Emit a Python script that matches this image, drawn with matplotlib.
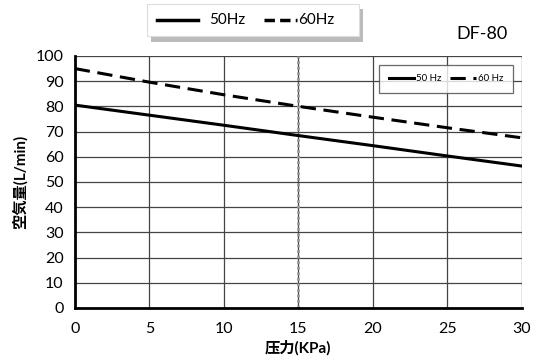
import matplotlib.pyplot as plt
from matplotlib.patches import FancyBboxPatch
from matplotlib.lines import Line2D

plt.rcParams['font.family'] = ['Lato', 'Noto Sans CJK JP', 'DejaVu Sans']

pressure = [0, 5, 10, 15, 20, 25, 30]
flow_50 = [80.5, 76.5, 72.5, 68.4, 64.4, 60.3, 56.3]
flow_60 = [95, 89.6, 84.6, 80, 75.7, 71.5, 67.5]
xticks = [0, 5, 10, 15, 20, 25, 30]
yticks = [0, 10, 20, 30, 40, 50, 60, 70, 80, 90, 100]

fig = plt.figure(figsize=(5.5, 3.61), dpi=100)
ax = fig.add_axes([0.136, 0.147, 0.813, 0.698])

ax.plot(pressure, flow_50, color='black', lw=2.2, label='50 Hz', zorder=3)
ax.plot(pressure, flow_60, color='black', lw=2.2, ls=(0, (5, 2.5)), label='60 Hz', zorder=3)

ax.set_xlim(0, 30)
ax.set_ylim(0, 100)
ax.set_xticks(xticks)
ax.set_yticks(yticks)
ax.grid(True, color='#444444', lw=0.9)
ax.axvline(15, color='#999999', lw=2.0, ls=(0, (1, 1)), zorder=2)
for s in ['top', 'right']:
    ax.spines[s].set_visible(False)
ax.spines['left'].set_linewidth(2)
ax.spines['bottom'].set_linewidth(2)
ax.tick_params(length=0, labelsize=11.5, pad=8)
ax.tick_params(axis='x', pad=10)

ax.set_xlabel('压力(KPa)', fontsize=11, fontweight='bold', labelpad=3)
ax.set_ylabel('空気量(L/min)', fontsize=11, fontweight='bold', labelpad=6)

# inner legend
leg = ax.legend(loc='upper right', bbox_to_anchor=(0.99, 0.985), fontsize=7,
                handlelength=2.6, ncol=2, columnspacing=0.9, handletextpad=0.2,
                frameon=True, fancybox=False, edgecolor='#444444', borderpad=1.0)
leg.get_frame().set_linewidth(0.9)

fig.text(0.877, 0.905, 'DF-80', fontsize=13, ha='center', va='center')

# outer legend box with shadow
shadow = FancyBboxPatch((0.275, 0.885), 0.385, 0.09, boxstyle='square,pad=0',
                        transform=fig.transFigure, facecolor='#bbbbbb', edgecolor='none')
box = FancyBboxPatch((0.268, 0.9), 0.385, 0.09, boxstyle='square,pad=0',
                     transform=fig.transFigure, facecolor='white', edgecolor='#dddddd', lw=0.8)
fig.patches.extend([shadow, box])
fig.lines.append(Line2D([0.285, 0.36], [0.945, 0.945], transform=fig.transFigure, color='black', lw=2.5))
fig.text(0.38, 0.945, '50Hz', fontsize=11, va='center')
fig.lines.append(Line2D([0.48, 0.54], [0.945, 0.945], transform=fig.transFigure, color='black', lw=2.5,
                        ls=(0, (3, 1.5))))
fig.text(0.542, 0.945, '60Hz', fontsize=11, va='center')

fig.savefig('out.png', dpi=100)
